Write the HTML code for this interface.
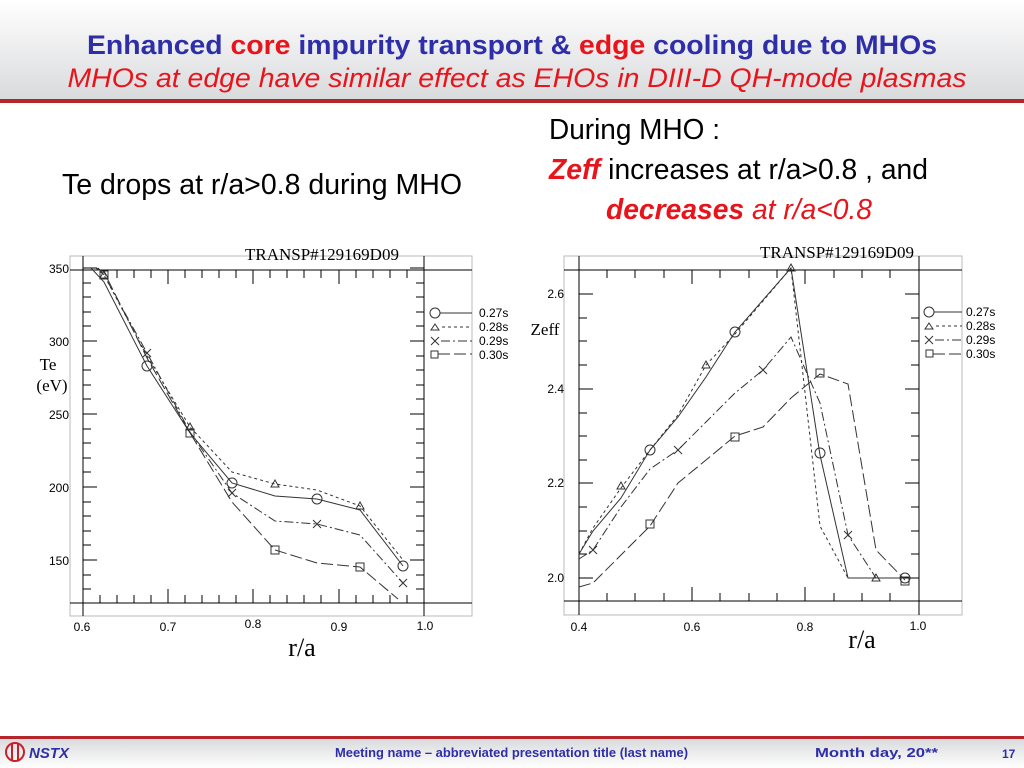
<!DOCTYPE html>
<html><head><meta charset="utf-8"><style>
html,body{margin:0;padding:0;background:#fff;}
svg{display:block;}
text{font-family:"Liberation Sans",sans-serif;}
.serif{font-family:"Liberation Serif",serif;}
</style></head><body>
<svg width="1024" height="768" viewBox="0 0 1024 768" xmlns="http://www.w3.org/2000/svg">
<defs>
<linearGradient id="hg" x1="0" y1="0" x2="0" y2="1"><stop offset="0" stop-color="#ffffff"/><stop offset="1" stop-color="#d9dadc"/></linearGradient>
<linearGradient id="fg" x1="0" y1="0" x2="0" y2="1"><stop offset="0" stop-color="#d8d9db"/><stop offset="1" stop-color="#ffffff"/></linearGradient>
</defs>
<rect x="0" y="0" width="1024" height="100" fill="url(#hg)"/>
<rect x="0" y="99" width="1024" height="4" fill="#b5262c"/>
<text x="512" y="54" text-anchor="middle" font-size="27" font-weight="bold" fill="#2e2fa8" textLength="850" lengthAdjust="spacingAndGlyphs">Enhanced <tspan fill="#e8141c">core</tspan> impurity transport &amp; <tspan fill="#e8141c">edge</tspan> cooling due to MHOs</text>
<text x="517" y="87" text-anchor="middle" font-size="27" font-style="italic" fill="#e8141c" textLength="899" lengthAdjust="spacingAndGlyphs">MHOs at edge have similar effect as EHOs in DIII-D QH-mode plasmas</text>

<text x="62" y="194" font-size="29" fill="#000" textLength="400" lengthAdjust="spacingAndGlyphs">Te drops at r/a&gt;0.8 during MHO</text>
<text x="549" y="139" font-size="29" fill="#000" textLength="171" lengthAdjust="spacingAndGlyphs">During MHO :</text>
<text x="549" y="179" font-size="29" fill="#000" textLength="379" lengthAdjust="spacingAndGlyphs"><tspan fill="#e8141c" font-weight="bold" font-style="italic">Zeff</tspan> increases at r/a&gt;0.8 , and</text>
<text x="606" y="219" font-size="29" fill="#e8141c" font-style="italic" textLength="266" lengthAdjust="spacingAndGlyphs"><tspan font-weight="bold">decreases</tspan> at r/a&lt;0.8</text>

<!-- LEFT CHART -->
<g fill="none" stroke="#000" stroke-width="1">
<rect x="70" y="256" width="402" height="360" stroke="#bbb"/>
<line x1="70" y1="270" x2="472" y2="270"/>
<line x1="70" y1="603" x2="472" y2="603"/>
<line x1="83" y1="256" x2="83" y2="616"/>
<line x1="424" y1="256" x2="424" y2="616"/>
</g>
<g stroke="#000" stroke-width="1">
<path d="M83,603v-14M100,603v-8M117,603v-8M134,603v-8M151,603v-8M168,603v-14M185,603v-8M202,603v-8M219,603v-8M236,603v-8M253,603v-14M270,603v-8M287,603v-8M304,603v-8M321,603v-8M339,603v-14M356,603v-8M373,603v-8M390,603v-8M407,603v-8
M83,270v14M100,270v8M117,270v8M134,270v8M151,270v8M168,270v14M185,270v8M202,270v8M219,270v8M236,270v8M253,270v14M270,270v8M287,270v8M304,270v8M321,270v8M339,270v14M356,270v8M373,270v8M390,270v8M407,270v8"/>
<path d="M83,268h14M83,283h8M83,297h8M83,312h8M83,326h8M83,341h14M83,356h8M83,370h8M83,385h8M83,399h8M83,414h14M83,429h8M83,443h8M83,458h8M83,472h8M83,487h14M83,502h8M83,516h8M83,531h8M83,545h8M83,560h14M83,575h8M83,589h8
M424,268h-14M424,283h-8M424,297h-8M424,312h-8M424,326h-8M424,341h-14M424,356h-8M424,370h-8M424,385h-8M424,399h-8M424,414h-14M424,429h-8M424,443h-8M424,458h-8M424,472h-8M424,487h-14M424,502h-8M424,516h-8M424,531h-8M424,545h-8M424,560h-14M424,575h-8M424,589h-8"/>
</g>
<g font-size="12" fill="#000" text-anchor="end">
<text x="69" y="273">350</text><text x="69" y="346">300</text><text x="69" y="419">250</text><text x="69" y="492">200</text><text x="69" y="565">150</text>
</g>
<g font-size="12" fill="#000" text-anchor="middle">
<text x="82" y="631">0.6</text><text x="168" y="631">0.7</text><text x="253" y="628">0.8</text><text x="339" y="631">0.9</text><text x="425" y="630">1.0</text>
</g>
<text class="serif" x="245" y="260" font-size="17" fill="#000">TRANSP#129169D09</text>
<text class="serif" x="48" y="370" font-size="17" text-anchor="middle">Te</text>
<text class="serif" x="52" y="391" font-size="17" text-anchor="middle">(eV)</text>
<text class="serif" x="302" y="656" font-size="26" text-anchor="middle">r/a</text>
<g fill="none" stroke="#333" stroke-width="1">
<polyline points="91,268 104,282 147,366 190,433 232,483 275,496 317,499 360,510 403,566"/>
<polyline stroke-dasharray="3,3" points="96,268 104,275 147,356 190,427 232,472 275,484 317,490 360,506 403,560"/>
<polyline stroke-dasharray="9,3,2,3" points="98,268 104,275 147,353 190,432 232,493 275,521 317,524 360,535 403,583"/>
<polyline stroke-dasharray="12,4" points="97,268 104,272 147,358 190,433 232,502 275,550 317,563 360,567 398,599"/>
<circle cx="147" cy="366" r="5"/><circle cx="232" cy="483" r="5"/><circle cx="317" cy="499" r="5"/><circle cx="403" cy="566" r="5"/>
<path d="M190,423l4,7h-8zM275,480l4,7h-8zM360,502l4,7h-8zM104,271l4,7h-8z"/>
<path d="M143,349l8,8M151,349l-8,8M228,489l8,8M236,489l-8,8M313,520l8,8M321,520l-8,8M399,579l8,8M407,579l-8,8"/>
<rect x="100" y="271" width="8" height="8"/><rect x="186" y="429" width="8" height="8"/><rect x="271" y="546" width="8" height="8"/><rect x="356" y="563" width="8" height="8"/>
<circle cx="435" cy="313" r="5"/><line x1="440" y1="313" x2="472" y2="313"/>
<path d="M435,324l4,6h-8z"/><line x1="442" y1="327" x2="472" y2="327" stroke-dasharray="3,3"/>
<path d="M431,337l8,8M439,337l-8,8"/><line x1="441" y1="341" x2="472" y2="341" stroke-dasharray="9,3,2,3"/>
<rect x="431" y="351" width="7" height="7"/><line x1="438" y1="354" x2="472" y2="354" stroke-dasharray="12,4"/>
</g>
<g font-size="12" fill="#000">
<text x="479" y="317">0.27s</text><text x="479" y="331">0.28s</text><text x="479" y="345">0.29s</text><text x="479" y="359">0.30s</text>
</g>

<!-- RIGHT CHART -->
<g fill="none" stroke="#000" stroke-width="1">
<rect x="564" y="256" width="398" height="359" stroke="#bbb"/>
<line x1="564" y1="270" x2="962" y2="270"/>
<line x1="564" y1="601" x2="962" y2="601"/>
<line x1="579" y1="256" x2="579" y2="615"/>
<line x1="919" y1="256" x2="919" y2="615"/>
</g>
<g stroke="#000" stroke-width="1">
<path d="M579,601v-14M607,601v-8M635,601v-8M664,601v-8M692,601v-14M720,601v-8M749,601v-8M777,601v-8M805,601v-14M834,601v-8M862,601v-8M890,601v-8
M579,270v14M607,270v8M635,270v8M664,270v8M692,270v14M720,270v8M749,270v8M777,270v8M805,270v14M834,270v8M862,270v8M890,270v8"/>
<path d="M579,294h14M579,318h8M579,341h8M579,365h8M579,389h14M579,413h8M579,436h8M579,460h8M579,483h14M579,507h8M579,531h8M579,554h8M579,578h14
M919,294h-14M919,318h-8M919,341h-8M919,365h-8M919,389h-14M919,413h-8M919,436h-8M919,460h-8M919,483h-14M919,507h-8M919,531h-8M919,554h-8M919,578h-14"/>
</g>
<g font-size="12" fill="#000" text-anchor="end">
<text x="564" y="298">2.6</text><text x="564" y="393">2.4</text><text x="564" y="487">2.2</text><text x="564" y="582">2.0</text>
</g>
<g font-size="12" fill="#000" text-anchor="middle">
<text x="579" y="631">0.4</text><text x="692" y="631">0.6</text><text x="805" y="631">0.8</text><text x="918" y="630">1.0</text>
</g>
<text class="serif" x="760" y="258" font-size="17" fill="#000">TRANSP#129169D09</text>
<text class="serif" x="545" y="335" font-size="17" text-anchor="middle">Zeff</text>
<text class="serif" x="862" y="648" font-size="26" text-anchor="middle">r/a</text>
<g fill="none" stroke="#333" stroke-width="1">
<polyline points="579,554 593,531 621,498 650,450 678,417 706,377 735,332 791,268 820,455 848,578 905,578"/>
<polyline stroke-dasharray="3,3" points="579,554 593,528 621,488 650,450 678,415 706,365 735,334 791,268 820,526 848,578 876,578 905,578"/>
<polyline stroke-dasharray="9,3,2,3" points="579,559 593,550 621,507 650,469 678,450 706,422 735,393 763,370 791,337 820,403 848,535 876,578 905,578"/>
<polyline stroke-dasharray="12,4" points="579,587 593,583 621,555 650,526 678,483 706,460 735,436 763,427 791,398 820,374 848,384 876,550 905,580"/>
<circle cx="650" cy="450" r="5"/><circle cx="735" cy="332" r="5"/><circle cx="820" cy="453" r="5"/><circle cx="905" cy="578" r="5"/>
<path d="M621,482l4,7h-8zM706,361l4,7h-8zM791,264l4,7h-8zM876,574l4,7h-8z"/>
<path d="M589,546l8,8M597,546l-8,8M674,446l8,8M682,446l-8,8M759,366l8,8M767,366l-8,8M844,531l8,8M852,531l-8,8"/>
<rect x="646" y="520" width="8" height="8"/><rect x="731" y="433" width="8" height="8"/><rect x="816" y="369" width="8" height="8"/><rect x="901" y="577" width="8" height="8"/>
<circle cx="929" cy="312" r="5"/><line x1="934" y1="312" x2="962" y2="312"/>
<path d="M929,323l4,6h-8z"/><line x1="936" y1="326" x2="962" y2="326" stroke-dasharray="3,3"/>
<path d="M925,336l8,8M933,336l-8,8"/><line x1="935" y1="340" x2="962" y2="340" stroke-dasharray="9,3,2,3"/>
<rect x="926" y="350" width="7" height="7"/><line x1="933" y1="354" x2="962" y2="354" stroke-dasharray="12,4"/>
</g>
<g font-size="12" fill="#000">
<text x="966" y="316">0.27s</text><text x="966" y="330">0.28s</text><text x="966" y="344">0.29s</text><text x="966" y="358">0.30s</text>
</g>

<!-- FOOTER -->
<rect x="0" y="738" width="1024" height="30" fill="url(#fg)"/>
<rect x="0" y="736" width="1024" height="3" fill="#b5262c"/>
<circle cx="15" cy="752" r="9" fill="none" stroke="#c8202a" stroke-width="2"/>
<line x1="12" y1="744" x2="12" y2="760" stroke="#c8202a" stroke-width="2"/>
<line x1="18" y1="744" x2="18" y2="760" stroke="#c8202a" stroke-width="2"/>
<text x="29" y="758" font-size="15" font-weight="bold" font-style="italic" fill="#2e2fa8">NSTX</text>
<text x="335" y="757" font-size="13" font-weight="bold" fill="#2e2fa8" textLength="353" lengthAdjust="spacingAndGlyphs">Meeting name  – abbreviated presentation title (last name)</text>
<text x="815" y="757" font-size="13" font-weight="bold" fill="#2e2fa8" textLength="123" lengthAdjust="spacingAndGlyphs">Month day, 20**</text>
<text x="1002" y="758" font-size="12" font-weight="bold" fill="#2e2fa8">17</text>
</svg>
</body></html>
